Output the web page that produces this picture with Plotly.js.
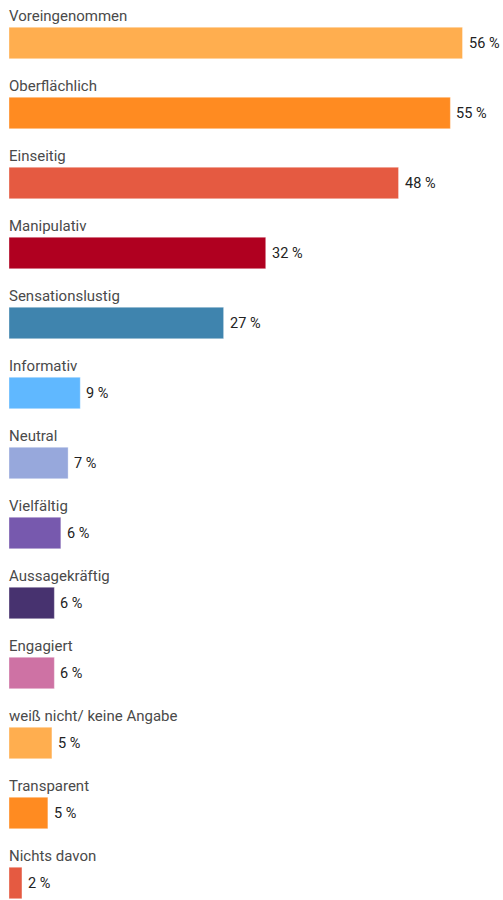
<!DOCTYPE html>
<html>
<head>
<meta charset="utf-8">
<script src="https://cdn.plot.ly/plotly-3.0.1.min.js"></script>
<style>html,body{margin:0;padding:0;background:#fff;}#chart{width:503px;height:900px;}</style>
</head>
<body>
<div id="chart"></div>
<script>
const categories = ["Voreingenommen","Oberflächlich","Einseitig","Manipulativ","Sensationslustig","Informativ","Neutral","Vielfältig","Aussagekräftig","Engagiert","weiß nicht/ keine Angabe","Transparent","Nichts davon"];
const values = [56, 54.5, 48.1, 31.7, 26.5, 8.8, 7.3, 6.4, 5.6, 5.6, 5.3, 4.8, 1.6];
const colors = ["#FFAE4F","#FF8B21","#E55A41","#B00020","#3F84AE","#60B8FF","#97A8DC","#7759AE","#47326F","#CE72A4","#FFAE4F","#FF8B21","#E55A41"];

const idx = categories.map((c,i)=>i);
const trace = {
  type: "bar",
  orientation: "h",
  x: values,
  y: idx,
  marker: {color: colors, line: {color: "rgba(255,255,255,0.35)", width: 1}},
  hoverinfo: "none"
};
const catLabels = categories.map((c,i)=>({
  x: 0, y: i - 0.385, xref: "x", yref: "y",
  text: c, showarrow: false, xanchor: "left", yanchor: "middle",
  font: {family: "Roboto", size: 15, color: "#4a4a4a"},
  xshift: -2
}));
const valLabels = values.map((v,i)=>({
  x: v, y: i, xref: "x", yref: "y",
  text: Math.round(v) + " %", showarrow: false, xanchor: "left", yanchor: "middle",
  font: {family: "Roboto", size: 14.5, color: "#222"},
  xshift: 4, yshift: -1
}));
const layout = {
  width: 503, height: 900,
  margin: {l: 9, r: 0, t: 0, b: 0},
  paper_bgcolor: "#fff", plot_bgcolor: "#fff",
  bargap: 0.55,
  showlegend: false,
  xaxis: {range: [0, 61], visible: false, fixedrange: true},
  yaxis: {range: [12.243, -0.614], visible: false, fixedrange: true},
  annotations: catLabels.concat(valLabels),
  font: {family: "Roboto"}
};
Plotly.newPlot("chart", [trace], layout, {displayModeBar: false, staticPlot: true});
</script>
</body>
</html>
